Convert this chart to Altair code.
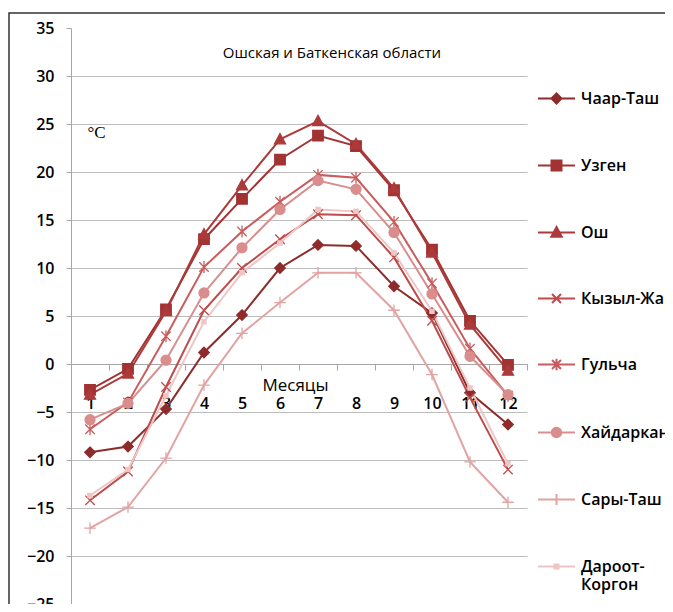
import re
import altair as alt
import pandas as pd

# ---------------- data ----------------
months = list(range(1, 13))
stations = ["Чаар-Таш", "Узген", "Ош", "Кызыл-Жар", "Гульча", "Хайдаркан", "Сары-Таш", "Дароот-Коргон"]

chaar_tash = [-9.2, -8.6, -4.7, 1.2, 5.1, 10.0, 12.4, 12.3, 8.1, 5.3, -3.0, -6.3]
uzgen = [-2.7, -0.5, 5.7, 13.0, 17.2, 21.3, 23.8, 22.7, 18.1, 11.9, 4.5, -0.1]
osh = [-3.2, -1.0, 5.5, 13.5, 18.6, 23.4, 25.3, 22.9, 18.3, 11.6, 4.1, -0.7]
kyzyl_jar = [-14.2, -11.2, -2.4, 5.6, 10.0, 13.0, 15.6, 15.5, 11.1, 4.5, -3.5, -11.0]
gulcha = [-6.8, -4.0, 2.9, 10.1, 13.8, 16.9, 19.7, 19.4, 14.8, 8.4, 1.6, -3.3]
haidarkan = [-5.8, -4.1, 0.4, 7.4, 12.1, 16.1, 19.1, 18.2, 13.7, 7.3, 0.8, -3.2]
sary_tash = [-17.1, -14.9, -9.8, -2.2, 3.2, 6.4, 9.5, 9.5, 5.6, -1.1, -10.2, -14.4]
daroot_korgon = [-13.7, -11.0, -3.3, 4.4, 9.5, 12.6, 16.1, 15.9, 11.6, 5.5, -2.5, -10.4]

series = [chaar_tash, uzgen, osh, kyzyl_jar, gulcha, haidarkan, sary_tash, daroot_korgon]
colors = ["#8E2B2B", "#A23333", "#AC3A3A", "#BF4B4B", "#C95C5C", "#D98D8D", "#E2A3A3", "#EEC6C6"]
y_ticks = [-25, -20, -15, -10, -5, 0, 5, 10, 15, 20, 25, 30, 35]

title_text = "Ошская и Баткенская области"
x_title = "Месяцы"
y_title = "°C"

rows = []
for st, vals in zip(stations, series):
    for m, v in zip(months, vals):
        rows.append({"station": st, "month": m, "t": v})
df = pd.DataFrame(rows)

# ---------------- marker shapes ----------------
def circ(r):
    k = 0.5523 * r
    return (f"M{-r},0C{-r},{-k} {-k},{-r} 0,{-r}C{k},{-r} {r},{-k} {r},0"
            f"C{r},{k} {k},{r} 0,{r}C{-k},{r} {-r},{k} {-r},0Z")

base_markers = [
    "M0,-1L1,0L0,1L-1,0Z",
    "M-1,-1L1,-1L1,1L-1,1Z",
    "M0,-1.1L1.05,0.85L-1.05,0.85Z",
    "M-0.9,-0.9L0.9,0.9M-0.9,0.9L0.9,-0.9",
    "M-0.9,-0.9L0.9,0.9M-0.9,0.9L0.9,-0.9M0,-1.15L0,1.15",
    circ(0.95),
    "M-1.1,0L1.1,0M0,-1.1L0,1.1",
    "M-0.4,-0.4L0.4,-0.4L0.4,0.4L-0.4,0.4Z",
]


def scale_path(p, s):
    return re.sub(r"-?\d+\.?\d*", lambda m: f"{float(m.group()) * s:.3f}", p)


legend_shapes = ["M-1,0L1,0" + scale_path(p, 0.27) for p in base_markers]

FONT = "Open Sans"

x_enc = alt.X(
    "month:O",
    scale=alt.Scale(type="band", domain=months, paddingInner=0, paddingOuter=0),
    axis=alt.Axis(
        orient="bottom", offset=-240, tickBand="extent", labelAngle=0,
        domainColor="#A6A6A6", tickColor="#A6A6A6", tickSize=6,
        labelPadding=25, labelFontSize=16, labelFont=FONT, labelColor="black",
        labelFontWeight=600, labelBaseline="top",
        grid=False, title=x_title, titleX=224, titleY=21, titleAlign="center",
        titleBaseline="middle", titleFont=FONT, titleFontSize=17,
        titleFontWeight="normal", titleColor="black",
    ),
)
y_enc = alt.Y(
    "t:Q",
    scale=alt.Scale(domain=[-25, 35], nice=False, zero=False),
    axis=alt.Axis(
        values=y_ticks, grid=True, gridColor="#BDBDBD", gridWidth=1,
        gridOpacity={"condition": {"test": "datum.value == 35 || datum.value == -25", "value": 0}, "value": 1},
        domainColor="#A6A6A6", tickColor="#A6A6A6", tickSize=5, labelPadding=12,
        labelFontSize=16, labelFont=FONT, labelColor="black", labelFontWeight=600,
        title=y_title, titleAngle=0, titleX=25, titleY=104, titleAlign="center",
        titleBaseline="middle", titleFont="Liberation Serif", titleFontSize=17,
        titleFontWeight="normal", titleColor="black",
    ),
)

fill_scale = alt.Scale(domain=stations, range=colors)

legend = alt.Legend(
    orient="none", legendX=466, legendY=51, title=None, padding=0,
    symbolSize=1369, symbolStrokeWidth=2, labelFontSize=16, labelFont=FONT,
    labelFontWeight=600, labelColor="black", labelOffset=5, rowPadding=38,
    labelExpr="datum.label == 'Дароот-Коргон' ? ['Дароот-', 'Коргон'] : datum.label",
)

base = alt.Chart(df)

lines = base.mark_line(strokeWidth=2).encode(
    x=x_enc, y=y_enc,
    stroke=alt.Stroke("station:N", scale=fill_scale, legend=legend, sort=stations),
    detail="station:N",
)

legend_layer = base.transform_filter("false").mark_point(filled=True, opacity=1).encode(
    x=alt.X("month:O"), y=alt.Y("t:Q"),
    fill=alt.Fill("station:N", scale=fill_scale, legend=legend, sort=stations),
    stroke=alt.Stroke("station:N", scale=fill_scale, legend=legend, sort=stations),
    shape=alt.Shape("station:N", scale=alt.Scale(domain=stations, range=legend_shapes), legend=legend, sort=stations),
)

point_layers = []
for st, shp in zip(stations, base_markers):
    point_layers.append(
        base.transform_filter(alt.datum.station == st)
        .mark_point(shape=shp, size=110, filled=True, strokeWidth=1.3, opacity=1)
        .encode(
            x=alt.X("month:O"), y=alt.Y("t:Q"),
            fill=alt.Fill("station:N", scale=fill_scale, legend=legend),
            stroke=alt.Stroke("station:N", scale=fill_scale, legend=legend),
        )
    )

border = alt.Chart(pd.DataFrame({"a": [0]})).mark_rect(
    fillOpacity=0, stroke="#333333", strokeWidth=1.5
).encode(x=alt.value(-62), y=alt.value(-15), x2=alt.value(900), y2=alt.value(900))

chart = alt.layer(border, lines, legend_layer, *point_layers).properties(
    width=456, height=576,
    padding={"left": 63, "top": 20, "right": 138, "bottom": 0},
    autosize=alt.AutoSizeParams(type="none"),
    title=alt.TitleParams(
        title_text, anchor="middle", frame="group", offset=-24, baseline="middle",
        dx=33, dy=32, fontSize=15, font=FONT, fontWeight="normal", color="black",
    ),
).configure_view(stroke="transparent")

chart.save("out.html", embed_options={"renderer": "svg", "actions": False})
